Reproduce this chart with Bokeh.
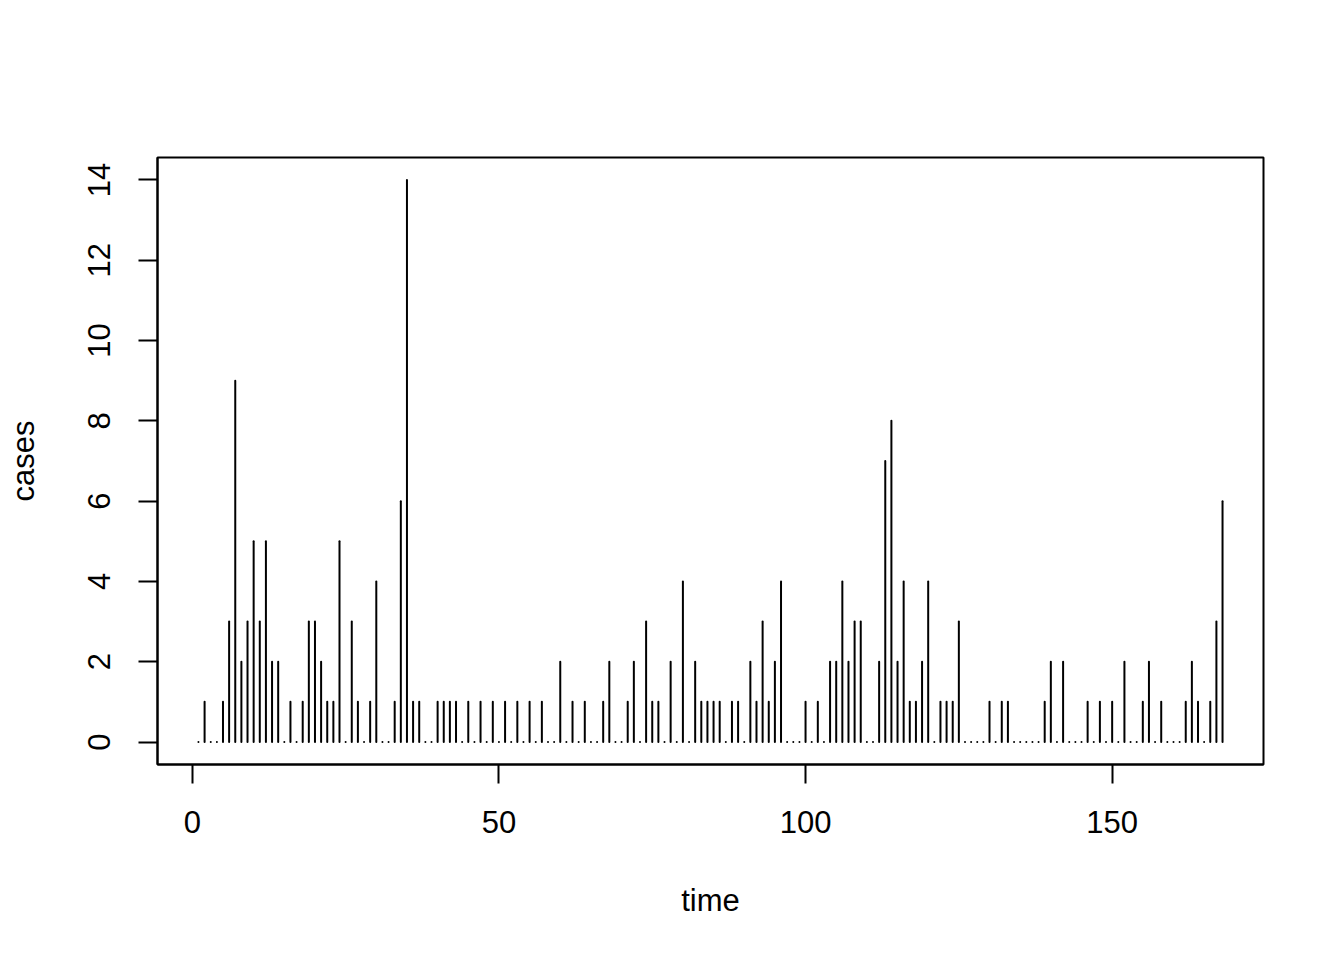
from bokeh.plotting import figure
from bokeh.models import Range1d, FixedTicker, ColumnDataSource
from bokeh.embed import file_html
from bokeh.resources import INLINE

# weekly case counts, time = 1..168
cases = [
    0, 1, 0, 0, 1, 3, 9, 2, 3, 5,      # 1-10
    3, 5, 2, 2, 0, 1, 0, 1, 3, 3,      # 11-20
    2, 1, 1, 5, 0, 3, 1, 0, 1, 4,      # 21-30
    0, 0, 1, 6, 14, 1, 1, 0, 0, 1,     # 31-40
    1, 1, 1, 0, 1, 0, 1, 0, 1, 0,      # 41-50
    1, 0, 1, 0, 1, 0, 1, 0, 0, 2,      # 51-60
    0, 1, 0, 1, 0, 0, 1, 2, 0, 0,      # 61-70
    1, 2, 0, 3, 1, 1, 0, 2, 0, 4,      # 71-80
    0, 2, 1, 1, 1, 1, 0, 1, 1, 0,      # 81-90
    2, 1, 3, 1, 2, 4, 0, 0, 0, 1,      # 91-100
    0, 1, 0, 2, 2, 4, 2, 3, 3, 0,      # 101-110
    0, 2, 7, 8, 2, 4, 1, 1, 2, 4,      # 111-120
    0, 1, 1, 1, 3, 0, 0, 0, 0, 1,      # 121-130
    0, 1, 1, 0, 0, 0, 0, 0, 1, 2,      # 131-140
    0, 2, 0, 0, 0, 1, 0, 1, 0, 1,      # 141-150
    0, 2, 0, 0, 1, 2, 0, 1, 0, 0,      # 151-160
    0, 1, 2, 1, 0, 1, 3, 6,            # 161-168
]
time = list(range(1, len(cases) + 1))

x_ticks = [0, 50, 100, 150]
y_ticks = [0, 2, 4, 6, 8, 10, 12, 14]
x_label = "time"
y_label = "cases"

# R-style 4% axis extension
xmin, xmax = min(time), max(time)
ymin, ymax = min(cases), max(cases)
xpad = 0.04 * (xmax - xmin)
ypad = 0.04 * (ymax - ymin)

FONT = "Liberation Sans"

p = figure(
    frame_width=1106, frame_height=607,
    min_border_left=157, min_border_top=157,
    min_border_right=65, min_border_bottom=180,
    x_range=Range1d(xmin - xpad, xmax + xpad),
    y_range=Range1d(ymin - ypad, ymax + ypad),
    output_backend="svg", toolbar_location=None,
)
p.background_fill_color = "white"
p.border_fill_color = "white"
p.grid.visible = False
p.outline_line_color = "black"
p.outline_line_width = 2

src = ColumnDataSource(dict(t=time, c=cases, z=[0] * len(cases)))
p.segment(x0="t", y0="z", x1="t", y1="c", source=src,
          line_color="black", line_width=2, line_cap="round")

for ax in (p.xaxis[0], p.yaxis[0]):
    ax.axis_line_color = "black"
    ax.axis_line_width = 2
    ax.major_tick_line_color = "black"
    ax.major_tick_line_width = 2
    ax.major_tick_in = 0
    ax.major_tick_out = 19
    ax.minor_tick_line_color = None
    ax.major_label_text_font = FONT
    ax.major_label_text_font_size = "31px"
    ax.major_label_text_color = "black"
    ax.axis_label_text_font = FONT
    ax.axis_label_text_font_size = "31px"
    ax.axis_label_text_font_style = "normal"
    ax.axis_label_text_color = "black"

p.xaxis[0].ticker = FixedTicker(ticks=x_ticks)
p.yaxis[0].ticker = FixedTicker(ticks=y_ticks)
p.xaxis[0].axis_label = x_label
p.yaxis[0].axis_label = y_label
p.xaxis[0].major_label_standoff = 27
p.xaxis[0].axis_label_standoff = 47
p.yaxis[0].major_label_orientation = "vertical"
p.yaxis[0].major_label_standoff = 28
p.yaxis[0].axis_label_standoff = 45

open("out.html", "w").write(file_html(p, INLINE))
